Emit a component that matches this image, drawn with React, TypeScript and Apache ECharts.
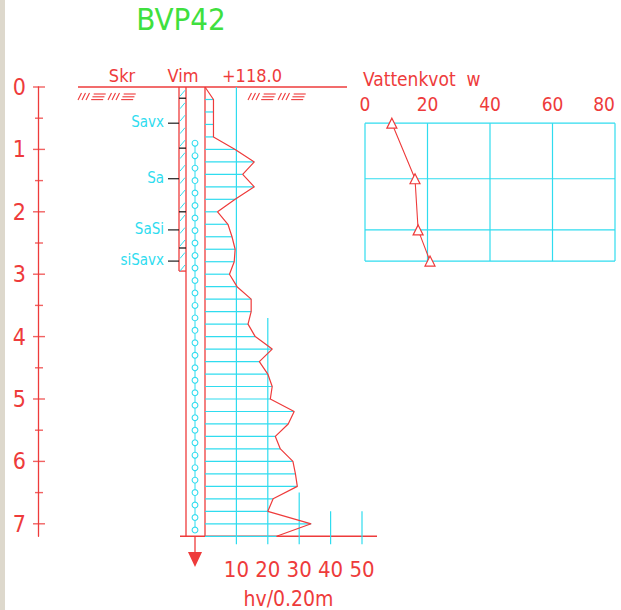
import React, { useEffect, useRef } from 'react';
import * as echarts from 'echarts';

// ---------- data ----------
const title = 'BVP42';
const headerLabels = ['Skr', 'Vim', '+118.0'];
const depthTicks = [0, 1, 2, 3, 4, 5, 6, 7];
const depthMinorTicks = [0.5, 1.5, 2.5, 3.5, 4.5, 5.5, 6.5];
const hvDepths = [0, 0.2, 0.4, 0.6, 0.8, 1.0, 1.2, 1.4, 1.6, 1.8, 2.0, 2.2, 2.4, 2.6, 2.8, 3.0, 3.2, 3.4, 3.6, 3.8, 4.0, 4.2, 4.4, 4.6, 4.8, 5.0, 5.2, 5.4, 5.6, 5.8, 6.0, 6.2, 6.4, 6.6, 6.8, 7.0, 7.2];
const hvValues = [0, 2.7, 2.7, 2.7, 2.7, 9.6, 15.7, 12, 15.7, 9.6, 4, 7.3, 8.6, 9.6, 9.3, 7.8, 10.2, 14.7, 14.7, 13.7, 16, 21.4, 17.3, 20, 21.4, 20.8, 28.4, 26.5, 22.4, 24, 28, 28.8, 29.4, 21.7, 20, 33.8, 22.8];
const hvTickLabels = [10, 20, 30, 40, 50];
const hvGuideTops = [0, 3.7, 6.5, 6.8, 6.8];
const hvAxisName = 'hv/0.20m';
const sampleDepths = [0.58, 1.47, 2.29, 2.79];
const soilNames = ['Savx', 'Sa', 'SaSi', 'siSavx'];
const waterContent = [8.6, 16, 17, 20.8];
const wTicks = [0, 20, 40, 60, 80];
const wTitle = 'Vattenkvot  w';
const layerBounds = [0.18, 0.98, 2.0, 2.58];
const skrEnd = 2.95;
const soundingStart = 0.9;
const soundingEnd = 7.2;

// ---------- style / layout ----------
const RED = '#ee3b3b';
const CYAN = '#2fdcef';
const BLACK = '#1c1c1c';
const GREEN = '#3fe03f';
const FONT = '"Liberation Sans Narrow", "DejaVu Sans Condensed", "Liberation Sans", sans-serif';
const TOP = 87;
const PXM = 62.4;
const DMAX = 7.2;
const PH = DMAX * PXM;
const BOTTOM = TOP + PH;

function line(x1: number, y1: number, x2: number, y2: number, stroke: string, lineWidth = 1) {
  return { type: 'line', shape: { x1, y1, x2, y2 }, style: { stroke, lineWidth } };
}

function hatchGroup(x0: number) {
  const els: any[] = [];
  for (let k = 0; k < 2; k++) {
    const bx = x0 + k * 30;
    for (let i = 0; i < 3; i++) {
      els.push(line(bx + i * 4, 100, bx + i * 4 + 3.5, 93, RED, 1.1));
    }
    for (let j = 0; j < 3; j++) {
      const yy = 94 + j * 2.8;
      const off = (100 - yy) * 0.45;
      els.push(line(bx + 13 + off, yy, bx + 25 + off, yy, RED, 1.1));
    }
  }
  return els;
}

export default function App() {
  const ref = useRef<HTMLDivElement>(null);
  useEffect(() => {
    if (!ref.current) return;
    const chart = echarts.init(ref.current, null, { renderer: 'svg' });

    const gridBase = { show: false, containLabel: false, outerBoundsMode: 'none', top: TOP, height: PH };
    const grids = [
      { ...gridBase, left: 38, width: 10 },
      { ...gridBase, left: 140, width: 65 },
      { ...gridBase, left: 205, width: 157 },
      { ...gridBase, left: 365, width: 250 },
    ];

    const yAxes = grids.map((_, i) => ({
      type: 'value',
      gridIndex: i,
      min: 0,
      max: DMAX,
      inverse: true,
      show: i === 0,
      interval: 1,
      axisLine: { show: i === 0, onZero: false, lineStyle: { color: RED, width: 1.3 } },
      axisTick: { show: false },
      splitLine: { show: false },
      axisLabel: {
        show: i === 0,
        margin: 12,
        color: RED,
        fontSize: 23,
        fontFamily: FONT,
        formatter: (v: number) => (Number.isInteger(v) ? String(v) : ''),
      },
    }));

    const xAxes: any[] = [
      { type: 'value', gridIndex: 0, min: 0, max: 10, show: false },
      { type: 'value', gridIndex: 1, min: 0, max: 65, show: false },
      {
        type: 'value', gridIndex: 2, min: 0, max: 50, interval: 10, position: 'bottom',
        axisLine: { show: false, onZero: false }, axisTick: { show: false }, splitLine: { show: false },
        axisLabel: { margin: 22, color: RED, fontSize: 22, fontFamily: FONT, formatter: (v: number) => (v === 0 ? '' : String(v)) },
        name: hvAxisName, nameLocation: 'middle', nameGap: 52,
        nameTextStyle: { color: RED, fontSize: 21, fontFamily: FONT, padding: [0, 0, 0, 10] },
      },
      {
        type: 'value', gridIndex: 3, min: 0, max: 80, interval: 20, position: 'top',
        axisLine: { show: false, onZero: false }, axisTick: { show: false }, splitLine: { show: false },
        axisLabel: { inside: true, margin: 7, color: RED, fontSize: 19, fontFamily: FONT, showMaxLabel: true, showMinLabel: true, alignMaxLabel: 'right' },
      },
    ];

    const series: any[] = [
      // depth ruler ticks
      {
        type: 'scatter', xAxisIndex: 0, yAxisIndex: 0, silent: true,
        data: depthTicks.map((d) => [0, d]), symbol: 'rect', symbolSize: [12, 1.4], symbolOffset: [1, 0],
        itemStyle: { color: RED },
      },
      {
        type: 'scatter', xAxisIndex: 0, yAxisIndex: 0, silent: true,
        data: depthMinorTicks.map((d) => [0, d]), symbol: 'rect', symbolSize: [8, 1.4], symbolOffset: [1, 0],
        itemStyle: { color: RED },
      },
      // rod / sounding column
      {
        type: 'custom', xAxisIndex: 1, yAxisIndex: 1, silent: true,
        data: [[soundingStart, soundingEnd, skrEnd]],
        renderItem: (params: any, api: any) => {
          const s = api.value(0), e = api.value(1), sk = api.value(2);
          const P = (u: number, d: number) => api.coord([u, d]);
          const ch: any[] = [];
          const a = P(46, 0), b = P(46, DMAX);
          ch.push(line(a[0], a[1], b[0], b[1], RED, 1.3));
          const c = P(65, 0), f = P(65, DMAX);
          ch.push(line(c[0], c[1], f[0], f[1], RED, 1.3));
          const g = P(39, 0), h = P(39, sk);
          ch.push(line(g[0], g[1], h[0], h[1], RED, 1.3));
          ch.push(line(h[0], h[1], P(46, sk)[0], h[1], RED, 1.3));
          for (let d = 0.1; d < sk; d += 0.2) {
            const p = P(40, d);
            ch.push(line(p[0], p[1] + 3, p[0] + 5, p[1] - 3, CYAN, 1));
          }
          let prev: number | null = null;
          for (let d = s; d < e - 0.05; d += 0.2) {
            const p = P(55, d);
            if (prev !== null) ch.push(line(p[0], prev + 2.9, p[0], p[1] - 2.9, CYAN, 1));
            ch.push({ type: 'circle', shape: { cx: p[0], cy: p[1], r: 2.9 }, style: { fill: '#fff', stroke: CYAN, lineWidth: 1.1 } });
            prev = p[1];
          }
          return { type: 'group', children: ch };
        },
      },
      // layer boundaries
      {
        type: 'custom', xAxisIndex: 1, yAxisIndex: 1, silent: true,
        data: layerBounds.map((d) => [0, d]),
        renderItem: (params: any, api: any) => {
          const p1 = api.coord([39, api.value(1)]);
          const p2 = api.coord([46, api.value(1)]);
          return line(p1[0], p1[1], p2[0], p2[1], BLACK, 1.3);
        },
      },
      // soil labels
      {
        type: 'custom', xAxisIndex: 1, yAxisIndex: 1, silent: true,
        data: sampleDepths.map((d, i) => [i, d]),
        renderItem: (params: any, api: any) => {
          const i = api.value(0);
          const d = api.value(1);
          const p1 = api.coord([28, d]);
          const p2 = api.coord([39, d]);
          const pt = api.coord([24, d]);
          return {
            type: 'group',
            children: [
              line(p1[0], p1[1], p2[0], p2[1], BLACK, 1.2),
              { type: 'text', x: pt[0], y: pt[1] - 1, style: { text: soilNames[i], fill: CYAN, fontSize: 15, fontFamily: FONT, align: 'right', verticalAlign: 'middle' } },
            ],
          };
        },
      },
      // hv guide verticals
      {
        type: 'custom', xAxisIndex: 2, yAxisIndex: 2, silent: true,
        data: hvTickLabels.map((v, i) => [v, hvGuideTops[i]]),
        renderItem: (params: any, api: any) => {
          const p1 = api.coord([api.value(0), api.value(1)]);
          const p2 = api.coord([api.value(0), DMAX]);
          return line(p1[0], p1[1], p2[0], p2[1] + 8, CYAN, 1.2);
        },
      },
      // hv horizontal bars
      {
        type: 'custom', xAxisIndex: 2, yAxisIndex: 2, silent: true,
        data: hvDepths.map((d, i) => [hvValues[i], d]),
        renderItem: (params: any, api: any) => {
          const p1 = api.coord([0, api.value(1)]);
          const p2 = api.coord([api.value(0), api.value(1)]);
          return line(p1[0], p1[1], p2[0], p2[1], CYAN, 1.2);
        },
      },
      // hv profile
      {
        type: 'line', xAxisIndex: 2, yAxisIndex: 2, silent: true, symbol: 'none', z: 5,
        data: hvDepths.map((d, i) => [hvValues[i], d]),
        lineStyle: { color: RED, width: 1.2 },
      },
      // water content grid
      {
        type: 'custom', xAxisIndex: 3, yAxisIndex: 3, silent: true,
        data: sampleDepths.map((d) => [0, d]),
        renderItem: (params: any, api: any) => {
          const p1 = api.coord([wTicks[0], api.value(1)]);
          const p2 = api.coord([wTicks[wTicks.length - 1], api.value(1)]);
          return line(p1[0], p1[1], p2[0], p2[1], CYAN, 1.2);
        },
      },
      {
        type: 'custom', xAxisIndex: 3, yAxisIndex: 3, silent: true,
        data: wTicks.map((v) => [v, 0]),
        renderItem: (params: any, api: any) => {
          const p1 = api.coord([api.value(0), sampleDepths[0]]);
          const p2 = api.coord([api.value(0), sampleDepths[sampleDepths.length - 1]]);
          return line(p1[0], p1[1], p2[0], p2[1], CYAN, 1.2);
        },
      },
      {
        type: 'line', xAxisIndex: 3, yAxisIndex: 3, silent: true, z: 5,
        data: waterContent.map((w, i) => [w, sampleDepths[i]]),
        symbol: 'triangle', symbolSize: 10,
        itemStyle: { color: '#fff', borderColor: RED, borderWidth: 1.2 },
        lineStyle: { color: RED, width: 1.1 },
      },
    ];

    const graphic: any[] = [
      { type: 'rect', shape: { x: 0, y: 0, width: 5, height: 610 }, style: { fill: '#ddd8cc' } },
      { type: 'text', x: 181, y: 19, style: { text: title, fill: GREEN, fontSize: 31, fontFamily: FONT, align: 'center', verticalAlign: 'middle' } },
      { type: 'text', x: 122, y: 75, style: { text: headerLabels[0], fill: RED, fontSize: 18, fontFamily: FONT, align: 'center', verticalAlign: 'middle' } },
      { type: 'text', x: 183, y: 75, style: { text: headerLabels[1], fill: RED, fontSize: 18, fontFamily: FONT, align: 'center', verticalAlign: 'middle' } },
      { type: 'text', x: 252, y: 75, style: { text: headerLabels[2], fill: RED, fontSize: 18, fontFamily: FONT, align: 'center', verticalAlign: 'middle' } },
      { type: 'text', x: 363, y: 79, style: { text: wTitle, fill: RED, fontSize: 19, fontFamily: FONT, align: 'left', verticalAlign: 'middle' } },
      line(78, TOP, 347, TOP, RED, 1.4),
      line(180, BOTTOM, 377, BOTTOM, RED, 1.4),
      line(195, BOTTOM, 195, 553, RED, 1.3),
      { type: 'polygon', shape: { points: [[188, 552], [202, 552], [195, 567]] }, style: { fill: RED } },
      ...hatchGroup(78),
      ...hatchGroup(248),
    ];

    chart.setOption({
      animation: false,
      backgroundColor: '#fff',
      grid: grids,
      xAxis: xAxes,
      yAxis: yAxes,
      series,
      graphic,
    });
    return () => chart.dispose();
  }, []);
  return <div ref={ref} style={{ position: 'fixed', left: 0, top: 0, width: 621, height: 610, background: '#fff' }} />;
}
